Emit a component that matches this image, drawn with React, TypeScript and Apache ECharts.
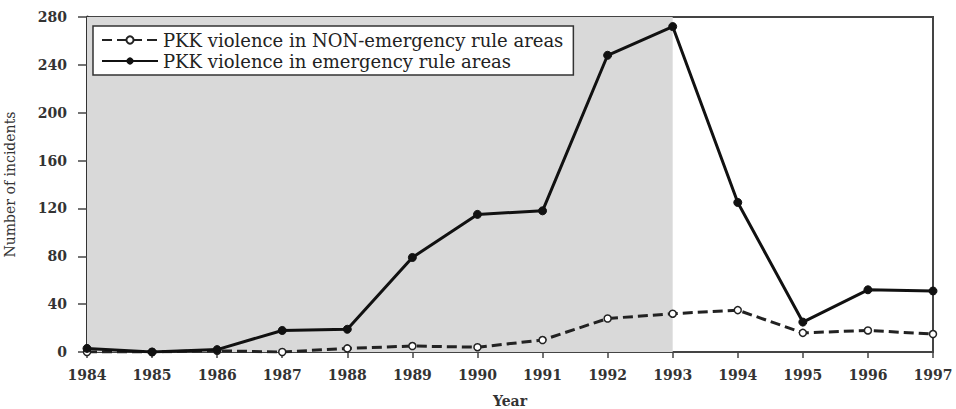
import React, { useEffect, useRef } from "react";
import * as echarts from "echarts";

const years = ["1984", "1985", "1986", "1987", "1988", "1989", "1990", "1991", "1992", "1993", "1994", "1995", "1996", "1997"];
const nonEmergency = [0, 0, 1, 0, 3, 5, 4, 10, 28, 32, 35, 16, 18, 15];
const emergency = [3, 0, 2, 18, 19, 79, 115, 118, 248, 272, 125, 25, 52, 51];
const shadedFrom = "1984";
const shadedTo = "1993";
const nonEmergencyName = "PKK violence in NON-emergency rule areas";
const emergencyName = "PKK violence in emergency rule areas";

const serif = "DejaVu Serif";

export default function App() {
  const ref = useRef<HTMLDivElement>(null);
  useEffect(() => {
    if (!ref.current) return;
    const chart = echarts.init(ref.current, undefined, { renderer: "svg" });
    chart.setOption({
      animation: false,
      backgroundColor: "#fff",
      grid: {
        left: 87,
        right: 23,
        top: 17,
        bottom: 57,
        containLabel: false,
        outerBoundsMode: "none",
        show: true,
        borderColor: "#444",
        borderWidth: 2,
        backgroundColor: "transparent",
      },
      legend: {
        orient: "vertical",
        left: 93,
        top: 26,
        padding: [5, 10, 5, 8],
        itemGap: 3,
        itemWidth: 56,
        itemHeight: 9,
        backgroundColor: "#fff",
        borderColor: "#333",
        borderWidth: 1.5,
        borderRadius: 0,
        textStyle: { fontFamily: serif, fontSize: 18, color: "#222" },
        data: [nonEmergencyName, emergencyName],
      },
      xAxis: {
        type: "category",
        data: years,
        boundaryGap: false,
        name: "Year",
        nameLocation: "middle",
        nameGap: 42,
        nameTextStyle: { fontFamily: serif, fontSize: 14, fontWeight: "bold", color: "#333" },
        axisLine: { show: true, lineStyle: { color: "#444", width: 2 } },
        axisTick: { show: true, length: 6, alignWithLabel: true, lineStyle: { color: "#444", width: 1.5 } },
        axisLabel: { fontFamily: serif, fontSize: 14, fontWeight: "bold", color: "#333", margin: 16 },
        splitLine: { show: false },
      },
      yAxis: {
        type: "value",
        min: 0,
        max: 280,
        interval: 40,
        name: "Number of incidents",
        nameLocation: "middle",
        nameGap: 70,
        nameTextStyle: { fontFamily: serif, fontSize: 14, color: "#333" },
        axisLine: { show: true, lineStyle: { color: "#333", width: 3 } },
        axisTick: { show: true, length: 9, lineStyle: { color: "#444", width: 1.5 } },
        axisLabel: { fontFamily: serif, fontSize: 14, fontWeight: "bold", color: "#333", margin: 20 },
        splitLine: { show: false },
      },
      series: [
        {
          name: nonEmergencyName,
          type: "line",
          data: nonEmergency,
          symbol: "circle",
          symbolSize: 7,
          lineStyle: { color: "#222", width: 3, type: [10, 5] },
          itemStyle: { color: "#fff", borderColor: "#222", borderWidth: 1.5 },
          z: 3,
          markArea: {
            silent: true,
            itemStyle: { color: "#d9d9d9" },
            data: [[{ xAxis: shadedFrom }, { xAxis: shadedTo }]],
          },
        },
        {
          name: emergencyName,
          type: "line",
          data: emergency,
          symbol: "circle",
          symbolSize: 8,
          lineStyle: { color: "#111", width: 3 },
          itemStyle: { color: "#111", borderColor: "#111" },
          z: 4,
        },
      ],
    });
    return () => chart.dispose();
  }, []);
  return <div ref={ref} style={{ width: 956, height: 409, position: "absolute", left: 0, top: 0 }} />;
}
